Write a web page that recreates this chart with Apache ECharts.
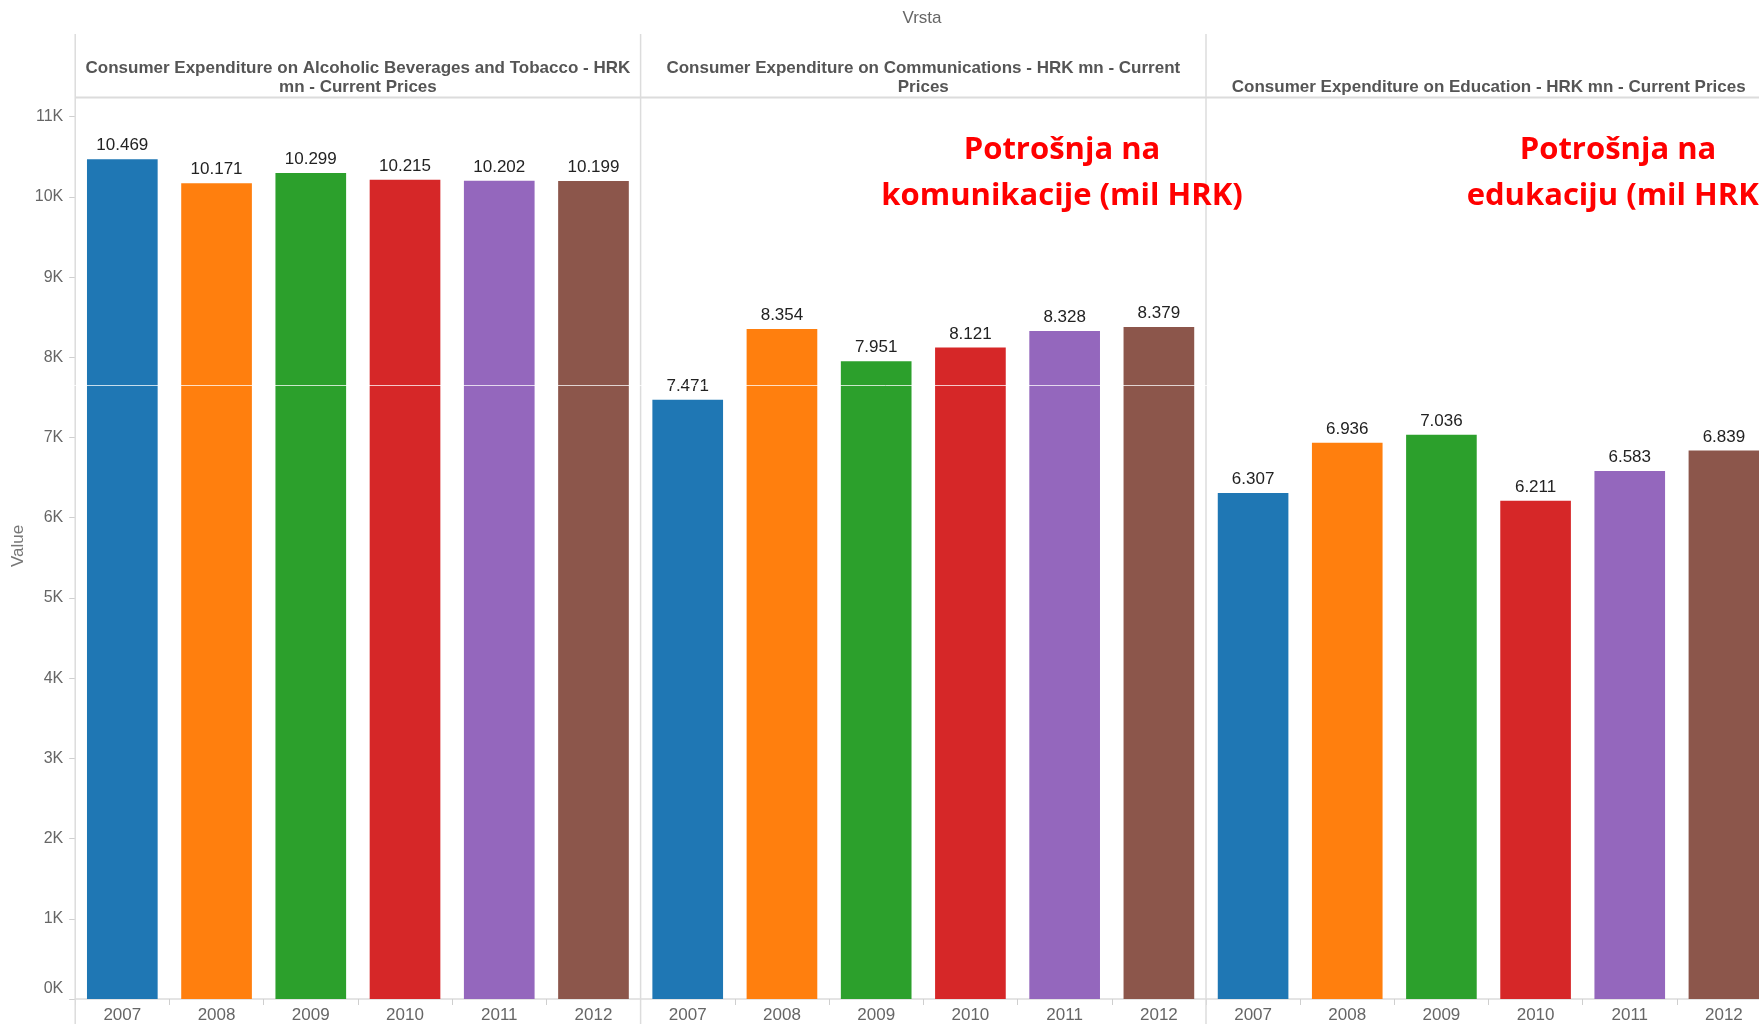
<!DOCTYPE html>
<html>
<head>
<meta charset="utf-8">
<title>Consumer Expenditure</title>
<script src="https://cdn.jsdelivr.net/npm/echarts@6/dist/echarts.min.js"></script>
<style>
  html, body { margin: 0; padding: 0; overflow: hidden; background: #fff; }
  #chart { width: 1771px; height: 1024px; }
</style>
</head>
<body>
<div id="chart"></div>
<script>
// data
const years = ['2007', '2008', '2009', '2010', '2011', '2012'];
const alcoholTobacco = [10469, 10171, 10299, 10215, 10202, 10199];
const communications = [7471, 8354, 7951, 8121, 8328, 8379];
const education = [6307, 6936, 7036, 6211, 6583, 6839];
const panelTitles = [
  ['Consumer Expenditure on Alcoholic Beverages and Tobacco - HRK', 'mn - Current Prices'],
  ['Consumer Expenditure on Communications - HRK mn - Current', 'Prices'],
  ['', 'Consumer Expenditure on Education - HRK mn - Current Prices']
];
const yearColors = ['#1f77b4', '#ff7f0e', '#2ca02c', '#d62728', '#9467bd', '#8c564b'];

const panels = [alcoholTobacco, communications, education];
const panelLeft = 75.2;
const panelWidth = 565.4;
const plotTop = 116.7;
const plotBottom = 999;
const lineColor = '#dcdcdc';

// 10469 -> "10.469"
function fmt(v) {
  if (v < 1000) return String(v);
  return Math.floor(v / 1000) + '.' + String(v % 1000).padStart(3, '0');
}

const grids = [], xAxes = [], yAxes = [], series = [], graphics = [];

panels.forEach((values, i) => {
  const left = panelLeft + i * panelWidth;
  grids.push({ left: left, width: panelWidth, top: plotTop, height: plotBottom - plotTop });
  xAxes.push({
    type: 'category',
    gridIndex: i,
    data: years,
    axisLine: { lineStyle: { color: lineColor, width: 1.5 } },
    axisTick: { show: true, length: 6, lineStyle: { color: '#cfcfcf' } },
    axisLabel: { color: '#666', fontSize: 17, margin: 8, fontFamily: 'Liberation Sans' }
  });
  yAxes.push({
    type: 'value',
    gridIndex: i,
    min: 0,
    max: 11000,
    interval: 1000,
    splitLine: { show: false },
    axisLine: { show: false },
    axisTick: { show: i === 0, length: 6, lineStyle: { color: '#cfcfcf' } },
    axisLabel: {
      show: i === 0,
      color: '#666',
      fontSize: 16,
      margin: 12,
      fontFamily: 'Liberation Sans',
      formatter: v => v === 0 ? '{z|0K}' : (v / 1000) + 'K',
      rich: { z: { fontSize: 16, color: '#666', padding: [0, 0, 20, 0], fontFamily: 'Liberation Sans' } }
    }
  });
  series.push({
    type: 'bar',
    xAxisIndex: i,
    yAxisIndex: i,
    data: values,
    barCategoryGap: '25%',
    itemStyle: { color: p => yearColors[p.dataIndex] },
    label: {
      show: true,
      position: 'top',
      distance: 5,
      color: '#222',
      fontSize: 17,
      fontFamily: 'Liberation Sans',
      formatter: p => fmt(p.value)
    }
  });

  // panel divider and header
  graphics.push({
    type: 'line',
    shape: { x1: left, y1: 34, x2: left, y2: 1024 },
    style: { stroke: lineColor, lineWidth: 1.5 },
    z: 1
  });
  graphics.push({
    type: 'text',
    x: left + panelWidth / 2,
    y: 77.5,
    style: {
      text: panelTitles[i].join('\n'),
      fill: '#555',
      font: 'bold 17px "Liberation Sans"',
      textAlign: 'center',
      textVerticalAlign: 'middle',
      lineHeight: 19
    }
  });
});

graphics.push(
  {
    type: 'line',
    shape: { x1: panelLeft, y1: 97.6, x2: 1771, y2: 97.6 },
    style: { stroke: lineColor, lineWidth: 2 }
  },
  {
    type: 'text', x: 922, y: 18,
    style: { text: 'Vrsta', fill: '#666', font: '17px "Liberation Sans"', textAlign: 'center', textVerticalAlign: 'middle' }
  },
  {
    type: 'text', x: 18, y: 546, rotation: Math.PI / 2,
    style: { text: 'Value', fill: '#777', font: '17px "Liberation Sans"', textAlign: 'center', textVerticalAlign: 'middle' }
  },
  {
    type: 'text', x: 1062, y: 173, z: 10,
    style: { text: 'Potrošnja na\nkomunikacije (mil HRK)', fill: '#ff0000', font: 'bold 31px "Open Sans"', textAlign: 'center', textVerticalAlign: 'middle', lineHeight: 46 }
  },
  {
    type: 'text', x: 1618, y: 173, z: 10,
    style: { text: 'Potrošnja na\nedukaciju (mil HRK)', fill: '#ff0000', font: 'bold 31px "Open Sans"', textAlign: 'center', textVerticalAlign: 'middle', lineHeight: 46 }
  },
  {
    type: 'text', x: 444, y: -13.5, z: 10,
    style: { text: '(mil HRK)', fill: '#ff0000', font: 'bold 31px "Open Sans"', textAlign: 'center', textVerticalAlign: 'middle', lineHeight: 46 }
  },
  {
    // faint seam across the picture
    type: 'line', z: 20,
    shape: { x1: 0, y1: 385.5, x2: 1771, y2: 385.5 },
    style: { stroke: 'rgba(255,255,255,0.75)', lineWidth: 1 }
  }
);

const chart = echarts.init(document.getElementById('chart'));
chart.setOption({
  animation: false,
  backgroundColor: '#fff',
  grid: grids,
  xAxis: xAxes,
  yAxis: yAxes,
  series: series,
  graphic: graphics
});
</script>
</body>
</html>
